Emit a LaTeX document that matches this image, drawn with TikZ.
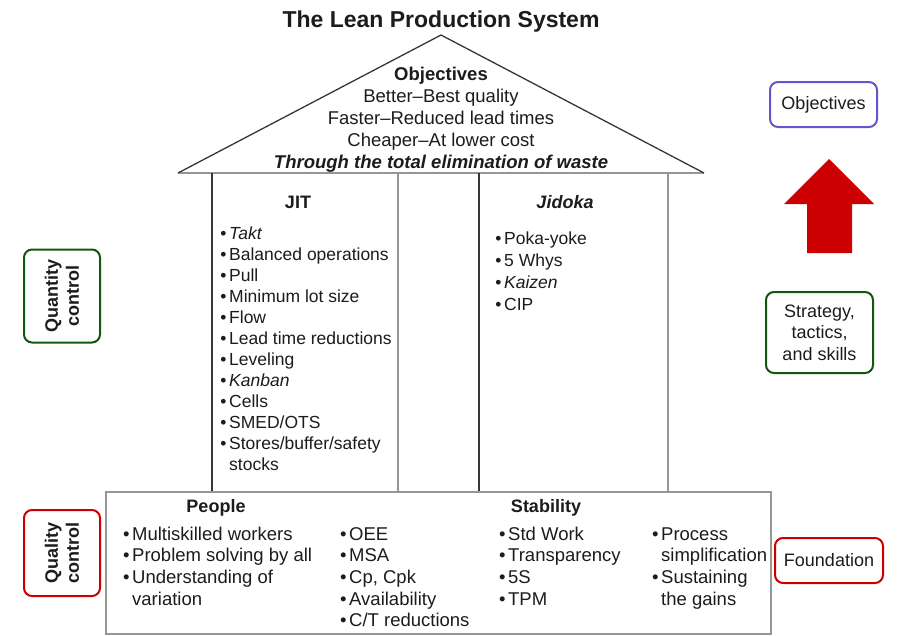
\documentclass[tikz,border=0pt]{standalone}
\usepackage{fontspec}
\setmainfont{Liberation Sans}
\definecolor{ink}{RGB}{28,28,28}
\definecolor{darkline}{RGB}{55,55,55}
\definecolor{lightline}{RGB}{150,150,150}
\definecolor{qgreen}{RGB}{16,88,16}
\definecolor{qred}{RGB}{204,0,0}
\definecolor{qpurple}{RGB}{104,84,204}
% bullet hanging to the left of an item's text
\newcommand\lpbullet{\llap{\textbullet\hspace{2.6pt}}}
\tikzset{
  txt/.style={inner sep=0pt, text=ink},
  rooftext/.style={txt, anchor=base, font=\fontsize{18.5}{22}\selectfont},
  colhead/.style={txt, anchor=base, font=\bfseries\fontsize{18}{22}\selectfont},
  pillaritem/.style={txt, anchor=base west, font=\fontsize{17.5}{21}\selectfont},
  baseitem/.style={txt, anchor=base west, font=\fontsize{18.5}{22}\selectfont},
  sidebox/.style={draw, line width=2pt, rounded corners=8pt, inner sep=0pt,
    text=ink, align=center, fill=white},
  darkstroke/.style={draw=darkline, line width=1.3pt},
  lightstroke/.style={draw=lightline, line width=1.3pt},
}
\begin{document}
\begin{tikzpicture}[x=1pt, y=-1pt]
\useasboundingbox (0,0) rectangle (897,635);
\fill[white] (0,0) rectangle (897,635);

% title
\node[txt, anchor=base, font=\bfseries\fontsize{23}{26}\selectfont] (title) at (441,27) {The Lean Production System};

% roof
\coordinate (roofL) at (178,173);
\coordinate (roofT) at (441,35);
\coordinate (roofR) at (704,173);
\draw[lightstroke] (roofL) -- (roofR);
\draw[darkstroke, line join=miter] (roofL) -- (roofT) -- (roofR);

\node[rooftext, font=\bfseries\fontsize{18.5}{22}\selectfont] (obj) at (441,80) {Objectives};
\node[rooftext] (obj1) at (441,102) {Better–Best quality};
\node[rooftext] (obj2) at (441,124) {Faster–Reduced lead times};
\node[rooftext] (obj3) at (441,146) {Cheaper–At lower cost};
\node[rooftext, font=\bfseries\itshape\fontsize{18.5}{22}\selectfont] (obj4) at (441,168) {Through the total elimination of waste};

% pillars
\draw[darkstroke] (212,173) -- (212,492);
\draw[lightstroke] (398,173) -- (398,492);
\draw[darkstroke] (479,173) -- (479,492);
\draw[lightstroke] (668,173) -- (668,492);

\node[colhead] (jit) at (298,208) {JIT};
\foreach \t [count=\i] in {\lpbullet\textit{Takt}, \lpbullet Balanced operations, \lpbullet Pull,
    \lpbullet Minimum lot size, \lpbullet Flow, \lpbullet Lead time reductions, \lpbullet Leveling,
    \lpbullet\textit{Kanban}, \lpbullet Cells, \lpbullet SMED/OTS, \lpbullet Stores/buffer/safety, stocks}
  \node[pillaritem] (jit\i) at (229,{239+21*(\i-1)}) {\t};

\node[colhead, font=\bfseries\itshape\fontsize{18}{22}\selectfont] (jidoka) at (565,208) {Jidoka};
\foreach \t [count=\i] in {\lpbullet Poka-yoke, \lpbullet 5 Whys, \lpbullet\textit{Kaizen}, \lpbullet CIP}
  \node[pillaritem] (jid\i) at (504,{244+22*(\i-1)}) {\t};

% foundation
\node[draw=lightline, line width=1.3pt, inner sep=0pt, minimum width=665pt, minimum height=142pt] (found) at (438.5,563) {};
\node[colhead] (people) at (216,512) {People};
\node[colhead] (stability) at (546,512) {Stability};
\foreach \t [count=\i] in {\lpbullet Multiskilled workers, \lpbullet Problem solving by all,
    \lpbullet Understanding of, variation}
  \node[baseitem] (pa\i) at (132,{540+21.7*(\i-1)}) {\t};
\foreach \t [count=\i] in {\lpbullet OEE, \lpbullet MSA, {\lpbullet Cp, Cpk}, \lpbullet Availability,
    \lpbullet C/T reductions}
  \node[baseitem] (pb\i) at (349,{540+21.7*(\i-1)}) {\t};
\foreach \t [count=\i] in {\lpbullet Std Work, \lpbullet Transparency, \lpbullet 5S, \lpbullet TPM}
  \node[baseitem] (sa\i) at (508,{540+21.7*(\i-1)}) {\t};
\foreach \t [count=\i] in {\lpbullet Process, simplification, \lpbullet Sustaining, the gains}
  \node[baseitem] (sb\i) at (661,{540+21.7*(\i-1)}) {\t};

% side labels, left
\node[sidebox, draw=qgreen, rotate=90, minimum width=93pt, minimum height=76pt,
  font=\bfseries\fontsize{18}{21}\selectfont] (quantity) at (62,296) {Quantity\\control};
\node[sidebox, draw=qred, rotate=90, minimum width=86pt, minimum height=76pt,
  font=\bfseries\fontsize{18}{21}\selectfont] (quality) at (62,553) {Quality\\control};

% side labels, right
\node[sidebox, draw=qpurple, minimum width=107pt, minimum height=45pt,
  font=\fontsize{18}{21.5}\selectfont] (objbox) at (823.5,104.5) {Objectives};
\node[sidebox, draw=qgreen, minimum width=107pt, minimum height=81pt,
  font=\fontsize{18}{21.5}\selectfont] (strategy) at (819.5,332.5) {Strategy,\\tactics,\\and skills};
\node[sidebox, draw=qred, minimum width=108pt, minimum height=45pt,
  font=\fontsize{18}{21.5}\selectfont] (foundation) at (829,560.5) {Foundation};

% upward arrow
\fill[qred] (829,159) -- (874,204) -- (852,204) -- (852,253) -- (807,253) -- (807,204) -- (784,204) -- cycle;
\end{tikzpicture}
\end{document}
